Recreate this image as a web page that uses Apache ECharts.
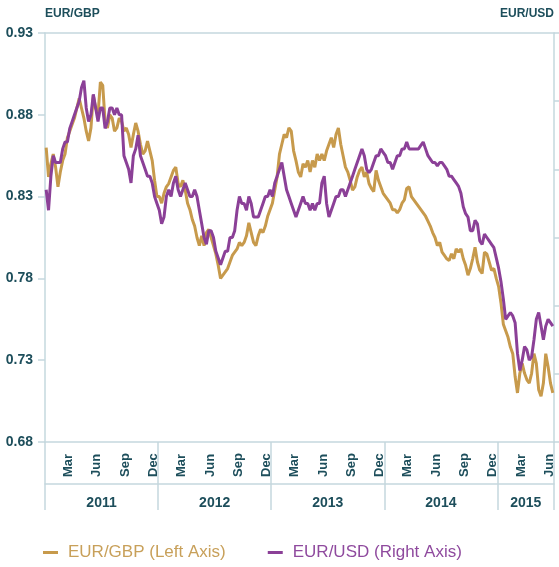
<!DOCTYPE html>
<html>
<head>
<meta charset="utf-8">
<script src="https://cdn.jsdelivr.net/npm/echarts@6/dist/echarts.min.js"></script>
<style>
  html, body { margin: 0; padding: 0; background: #fff; }
  #chart { width: 559px; height: 567px; }
</style>
</head>
<body>
<div id="chart"></div>
<script>
// weekly readings (4 per month), Jan 2011 - Jun 2015
const gbp2011 = [0.860, 0.842, 0.850, 0.856, 0.848, 0.836, 0.845, 0.852, 0.856, 0.866, 0.870, 0.874,
  0.878, 0.884, 0.890, 0.884, 0.878, 0.870, 0.864, 0.872, 0.892, 0.884, 0.880, 0.900,
  0.898, 0.876, 0.872, 0.880, 0.878, 0.870, 0.872, 0.878, 0.876, 0.870, 0.872, 0.868,
  0.860, 0.868, 0.875, 0.870, 0.862, 0.856, 0.858, 0.864, 0.858, 0.852, 0.840, 0.830]
const gbp2012 = [0.830, 0.826, 0.832, 0.836, 0.838, 0.842, 0.846, 0.848, 0.838, 0.836, 0.840, 0.834,
  0.826, 0.822, 0.816, 0.812, 0.805, 0.800, 0.806, 0.800, 0.808, 0.810, 0.805, 0.800,
  0.795, 0.788, 0.780, 0.782, 0.784, 0.786, 0.790, 0.794, 0.796, 0.798, 0.802, 0.800,
  0.802, 0.806, 0.814, 0.808, 0.802, 0.800, 0.806, 0.810, 0.808, 0.812, 0.818, 0.822]
const gbp2013 = [0.826, 0.834, 0.842, 0.856, 0.862, 0.868, 0.866, 0.872, 0.870, 0.858, 0.852, 0.845,
  0.842, 0.850, 0.848, 0.852, 0.845, 0.852, 0.848, 0.856, 0.852, 0.856, 0.852, 0.858,
  0.862, 0.866, 0.860, 0.868, 0.872, 0.862, 0.855, 0.848, 0.845, 0.840, 0.834, 0.836,
  0.842, 0.846, 0.848, 0.842, 0.845, 0.838, 0.835, 0.833, 0.846, 0.840, 0.836, 0.832]
const gbp2014 = [0.830, 0.828, 0.826, 0.822, 0.822, 0.820, 0.822, 0.826, 0.828, 0.835, 0.836, 0.830,
  0.828, 0.826, 0.824, 0.822, 0.820, 0.818, 0.815, 0.812, 0.808, 0.805, 0.800, 0.802,
  0.796, 0.794, 0.792, 0.791, 0.795, 0.792, 0.798, 0.796, 0.798, 0.792, 0.788, 0.782,
  0.786, 0.792, 0.799, 0.790, 0.785, 0.783, 0.796, 0.795, 0.790, 0.785, 0.786, 0.780]
const gbp2015 = [0.775, 0.765, 0.752, 0.748, 0.744, 0.738, 0.734, 0.720, 0.710, 0.722, 0.728, 0.722,
  0.718, 0.716, 0.722, 0.734, 0.728, 0.712, 0.708, 0.716, 0.734, 0.726, 0.716, 0.710]

const usd2011 = [1.32, 1.29, 1.34, 1.37, 1.36, 1.36, 1.36, 1.38, 1.39, 1.39, 1.41, 1.42,
  1.43, 1.44, 1.45, 1.47, 1.48, 1.44, 1.42, 1.43, 1.46, 1.44, 1.42, 1.44,
  1.44, 1.41, 1.42, 1.44, 1.44, 1.43, 1.44, 1.43, 1.43, 1.37, 1.36, 1.35,
  1.33, 1.37, 1.38, 1.40, 1.37, 1.36, 1.35, 1.34, 1.34, 1.33, 1.31, 1.30]
const usd2012 = [1.29, 1.27, 1.28, 1.31, 1.32, 1.31, 1.33, 1.34, 1.32, 1.31, 1.32, 1.33,
  1.32, 1.31, 1.31, 1.32, 1.31, 1.29, 1.27, 1.25, 1.24, 1.26, 1.26, 1.25,
  1.23, 1.22, 1.21, 1.22, 1.23, 1.23, 1.25, 1.25, 1.26, 1.29, 1.31, 1.30,
  1.30, 1.29, 1.31, 1.30, 1.28, 1.28, 1.28, 1.29, 1.30, 1.31, 1.31, 1.32]
const usd2013 = [1.31, 1.33, 1.34, 1.35, 1.36, 1.34, 1.32, 1.31, 1.30, 1.29, 1.28, 1.29,
  1.30, 1.31, 1.30, 1.30, 1.29, 1.30, 1.29, 1.30, 1.30, 1.33, 1.34, 1.30,
  1.28, 1.29, 1.30, 1.31, 1.31, 1.32, 1.32, 1.31, 1.32, 1.33, 1.34, 1.35,
  1.36, 1.37, 1.38, 1.37, 1.35, 1.345, 1.35, 1.36, 1.37, 1.37, 1.38, 1.375]
const usd2014 = [1.37, 1.36, 1.36, 1.35, 1.36, 1.37, 1.37, 1.38, 1.38, 1.39, 1.38, 1.38,
  1.38, 1.38, 1.38, 1.385, 1.39, 1.38, 1.37, 1.365, 1.36, 1.36, 1.355, 1.36,
  1.36, 1.355, 1.35, 1.34, 1.34, 1.335, 1.33, 1.325, 1.315, 1.295, 1.285, 1.28,
  1.26, 1.26, 1.275, 1.27, 1.245, 1.24, 1.255, 1.25, 1.245, 1.24, 1.235, 1.22]
const usd2015 = [1.205, 1.185, 1.16, 1.13, 1.135, 1.14, 1.135, 1.125, 1.08, 1.055, 1.07, 1.09,
  1.085, 1.07, 1.075, 1.10, 1.13, 1.14, 1.12, 1.10, 1.12, 1.13, 1.125, 1.12]

const years = ['2011', '2012', '2013', '2014', '2015']
const monthsPerYear = [12, 12, 12, 12, 6]
const monthNames = ['Jan', 'Feb', 'Mar', 'Apr', 'May', 'Jun', 'Jul', 'Aug', 'Sep', 'Oct', 'Nov', 'Dec']
const shownMonths = ['Mar', 'Jun', 'Sep', 'Dec']

const gbp = [].concat(gbp2011, gbp2012, gbp2013, gbp2014, gbp2015)
const usd = [].concat(usd2011, usd2012, usd2013, usd2014, usd2015)

const gold = '#c79a4c'
const purple = '#8b4097'
const axisColor = '#c5d8de'
const textColor = '#1d4e5b'
const narrow = "'Liberation Sans Narrow', 'Liberation Sans', Arial, sans-serif"

// category lists for the time axes
let months = []
let weeks = []
years.forEach((y, yi) => {
  for (let m = 0; m < monthsPerYear[yi]; m++) {
    months.push(monthNames[m])
    for (let w = 1; w <= 4; w++) weeks.push(monthNames[m] + ' ' + y + ' w' + w)
  }
})
// month boundaries 0..54, year label at the middle of each year
let yearCats = new Array(months.length + 1).fill('')
let yearEdges = [0]
let start = 0
years.forEach((y, yi) => {
  yearCats[start + monthsPerYear[yi] / 2] = y
  start += monthsPerYear[yi]
  yearEdges.push(start)
})
const isYearEdge = (i) => yearEdges.indexOf(i) >= 0

let chart = echarts.init(document.getElementById('chart'))
chart.setOption({
  animation: false,
  grid: { left: 45, right: 5, top: 33, bottom: 125, outerBoundsMode: 'none' },
  legend: {
    left: 43,
    top: 544,
    padding: 0,
    icon: 'rect',
    itemWidth: 15,
    itemHeight: 3,
    itemGap: 42,
    textStyle: { fontSize: 17, fontFamily: "'Liberation Sans', Arial, sans-serif", padding: [0, 0, 0, 5] },
    data: [
      { name: 'EUR/GBP (Left Axis)', textStyle: { color: '#c8a05a' } },
      { name: 'EUR/USD (Right Axis)', textStyle: { color: '#8f4a9e' } },
    ],
  },
  xAxis: [
    // data axis (weekly points)
    { type: 'category', data: weeks, boundaryGap: true, show: false },
    // months
    {
      type: 'category',
      data: months,
      position: 'bottom',
      boundaryGap: true,
      axisLine: { lineStyle: { color: axisColor, width: 1.5 } },
      axisTick: { interval: 0, length: 7, lineStyle: { color: axisColor, width: 1.5 } },
      axisLabel: {
        interval: (i, v) => shownMonths.indexOf(v) >= 0,
        rotate: 90,
        align: 'left',
        verticalAlign: 'middle',
        margin: 35,
        color: textColor,
        fontFamily: narrow,
        fontWeight: 'bold',
        fontSize: 13,
      },
    },
    // year dividers through the month labels
    {
      type: 'category',
      data: yearCats,
      position: 'bottom',
      boundaryGap: false,
      axisLine: { show: false },
      axisTick: { interval: (i) => isYearEdge(i), length: 42, lineStyle: { color: axisColor, width: 1.5 } },
      axisLabel: { show: false },
    },
    // years
    {
      type: 'category',
      data: yearCats,
      position: 'bottom',
      offset: 42,
      boundaryGap: false,
      axisLine: { lineStyle: { color: axisColor, width: 1.5 } },
      axisTick: { interval: (i) => isYearEdge(i), length: 26, lineStyle: { color: axisColor, width: 1.5 } },
      axisLabel: {
        interval: 0,
        margin: 12,
        color: textColor,
        fontFamily: narrow,
        fontWeight: 'bold',
        fontSize: 14,
      },
    },
    // top border
    {
      type: 'value',
      position: 'top',
      min: 0,
      max: 1,
      axisLine: { show: true, lineStyle: { color: axisColor, width: 1.5 } },
      axisTick: { show: false },
      axisLabel: { show: false },
      splitLine: { show: false },
    },
  ],
  yAxis: [
    {
      type: 'value',
      min: 0.68,
      max: 0.93,
      interval: 0.05,
      name: 'EUR/GBP',
      nameLocation: 'end',
      nameGap: 13,
      nameTextStyle: { align: 'left', color: textColor, fontFamily: narrow, fontWeight: 'bold', fontSize: 12 },
      axisLine: { show: true, lineStyle: { color: axisColor, width: 1.5 } },
      axisTick: { show: true, length: 7, lineStyle: { color: axisColor, width: 1.5 } },
      splitLine: { show: false },
      axisLabel: {
        formatter: (v) => v.toFixed(2),
        margin: 12,
        color: textColor,
        fontFamily: narrow,
        fontWeight: 'bold',
        fontSize: 14,
      },
    },
    {
      type: 'value',
      position: 'right',
      min: 0.95,
      max: 1.55,
      interval: 0.1,
      name: 'EUR/USD',
      nameLocation: 'end',
      nameGap: 13,
      nameTextStyle: { align: 'right', color: textColor, fontFamily: narrow, fontWeight: 'bold', fontSize: 12 },
      axisLine: { show: true, lineStyle: { color: axisColor, width: 1.5 } },
      axisTick: { show: true, length: 5, lineStyle: { color: axisColor, width: 1.5 } },
      splitLine: { show: false },
      axisLabel: { show: false },
    },
  ],
  series: [
    {
      name: 'EUR/GBP (Left Axis)',
      type: 'line',
      xAxisIndex: 0,
      yAxisIndex: 0,
      data: gbp,
      showSymbol: false,
      lineStyle: { width: 3, color: gold },
      itemStyle: { color: gold },
    },
    {
      name: 'EUR/USD (Right Axis)',
      type: 'line',
      xAxisIndex: 0,
      yAxisIndex: 1,
      data: usd,
      showSymbol: false,
      lineStyle: { width: 3, color: purple },
      itemStyle: { color: purple },
    },
  ],
})
</script>
</body>
</html>
